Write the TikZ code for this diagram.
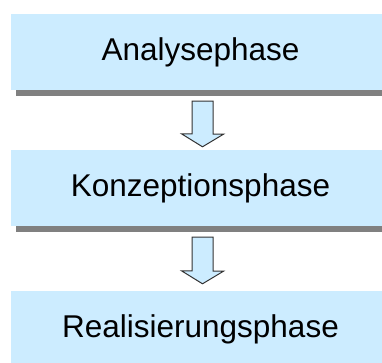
\documentclass[tikz,border=0pt]{standalone}
\usepackage{fontspec}
\setmainfont{Liberation Sans}
\usetikzlibrary{shadows}
\definecolor{phasenblau}{RGB}{204,236,255}
\definecolor{schatten}{RGB}{128,128,128}
\tikzset{
  phase/.style={fill=phasenblau,minimum width=379pt,minimum height=76pt,inner sep=0pt,
    font=\fontsize{31.5}{36}\selectfont,
    drop shadow={shadow xshift=5pt,shadow yshift=-6pt,fill=schatten,opacity=1}},
  pfeil/.style={fill=phasenblau,draw=black!80,line width=1pt,line join=miter}
}
\begin{document}
\begin{tikzpicture}[x=1pt,y=1pt]
\useasboundingbox (0,0) rectangle (382,-363);
\node[phase] (ana) at (200.5,-52) {Analysephase};
\node[phase] (kon) at (200.5,-188) {Konzeptionsphase};
\node[phase] (rea) at (200.5,-329) {Realisierungsphase};
% Pfeile zwischen den Phasen
\coordinate (a1) at ([xshift=2pt,yshift=-11pt]ana.south);
\coordinate (b1) at ([xshift=2pt,yshift=3pt]kon.north);
\coordinate (a2) at ([xshift=2pt,yshift=-11pt]kon.south);
\coordinate (b2) at ([xshift=2pt,yshift=7pt]rea.north);
\draw[pfeil] (a1) ++(-10.5,0) -- ++(21,0) -- ++(0,-33) -- ++(10.5,0)
	-- (b1) -- ++(-21,13) -- ++(10.5,0) -- cycle;
\draw[pfeil] (a2) ++(-10.5,0) -- ++(21,0) -- ++(0,-34) -- ++(10.5,0)
	-- (b2) -- ++(-21,13) -- ++(10.5,0) -- cycle;
\end{tikzpicture}
\end{document}
